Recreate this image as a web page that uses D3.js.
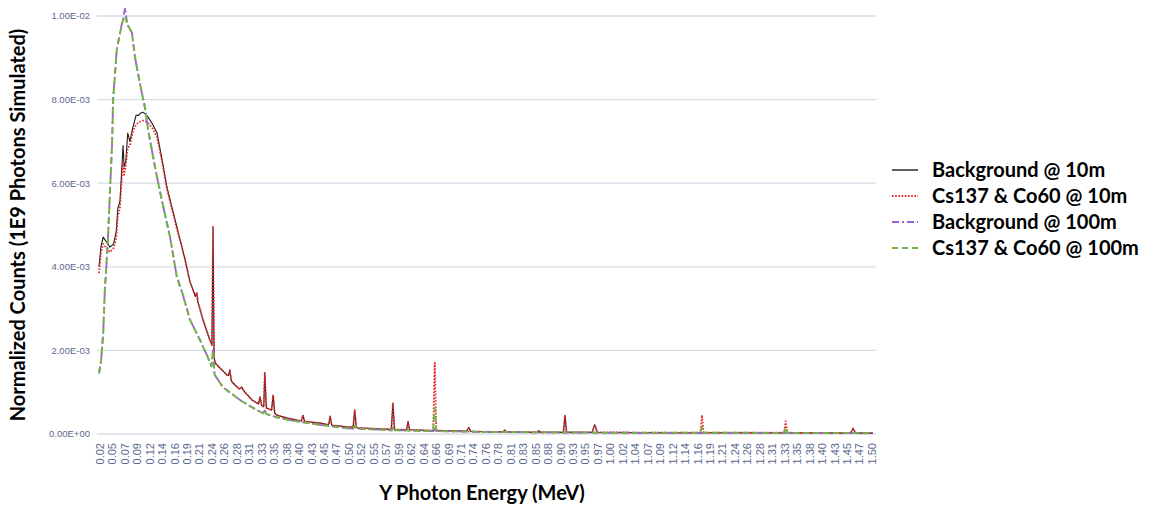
<!DOCTYPE html>
<html>
<head>
<meta charset="utf-8">
<script src="https://cdn.jsdelivr.net/npm/d3@7"></script>
<style>
  body { margin: 0; background: #fff; }
  svg { display: block; }
  .tick-label { font-family: "Liberation Sans", "Noto Sans", sans-serif; fill: #5b6890; }
  .title { font-family: Lato, "Open Sans", sans-serif; font-weight: bold; fill: #000; }
</style>
</head>
<body>
<svg id="chart" width="1149" height="505"></svg>
<script>
// values are in units of 1E-3 normalized counts, energies in MeV
const UNIT = 1e-3;

const energyLabels = ['0.02','0.05','0.07','0.09','0.12','0.14','0.16','0.19','0.21','0.24','0.26','0.28','0.31','0.33','0.35','0.38','0.40','0.43','0.45','0.47','0.50','0.52','0.55','0.57','0.59','0.62','0.64','0.66','0.69','0.71','0.74','0.76','0.78','0.81','0.83','0.85','0.88','0.90','0.93','0.95','0.97','1.00','1.02','1.04','1.07','1.09','1.12','1.14','1.16','1.19','1.21','1.24','1.26','1.28','1.31','1.33','1.35','1.38','1.40','1.43','1.45','1.47','1.50'];

const countTicks = [0, 2, 4, 6, 8, 10];

// shared tail of the 10m spectra (above 0.17 MeV)
const tail10 = [[0.177,4.55],[0.184,4.20],[0.194,3.64],[0.204,3.30],[0.207,3.37],[0.209,3.16],[0.219,2.73],[0.232,2.25],[0.236,2.13],[0.238,4.95],[0.240,1.85],[0.242,1.70],[0.251,1.58],[0.265,1.41],[0.268,1.40],[0.270,1.53],[0.273,1.28],[0.276,1.22],[0.288,1.08],[0.293,1.12],[0.296,1.05],[0.299,1.00],[0.313,0.81],[0.325,0.72],[0.328,0.89],[0.331,0.68],[0.335,0.65],[0.337,1.46],[0.340,0.62],[0.350,0.57],[0.353,0.93],[0.356,0.50],[0.360,0.45],[0.380,0.38],[0.407,0.31],[0.410,0.45],[0.413,0.30],[0.443,0.26],[0.459,0.22],[0.462,0.42],[0.465,0.21],[0.494,0.17],[0.506,0.16],[0.509,0.57],[0.512,0.15],[0.560,0.12],[0.579,0.11],[0.582,0.74],[0.585,0.11],[0.608,0.10],[0.611,0.29],[0.614,0.10]];

const bg10 = [[0.020,4.00],[0.024,4.50],[0.028,4.71],[0.034,4.60],[0.041,4.47],[0.048,4.55],[0.053,4.85],[0.056,5.40],[0.060,5.55],[0.062,6.00],[0.066,6.90],[0.068,6.40],[0.071,6.50],[0.075,7.20],[0.079,7.00],[0.085,7.35],[0.091,7.63],[0.095,7.62],[0.100,7.68],[0.104,7.70],[0.108,7.66],[0.114,7.58],[0.123,7.40],[0.131,7.20],[0.140,6.60],[0.150,5.90],[0.160,5.40],[0.169,4.95]]
  .concat(tail10)
  .concat([[0.659,0.08],[0.662,0.12],[0.665,0.08],[0.723,0.07],[0.727,0.15],[0.731,0.06],[0.781,0.05],[0.793,0.05],[0.796,0.09],[0.799,0.05],[0.858,0.04],[0.861,0.08],[0.864,0.04],[0.908,0.04],[0.911,0.45],[0.914,0.04],[0.963,0.04],[0.968,0.22],[0.973,0.04],[1.100,0.03],[1.300,0.03],[1.457,0.02],[1.462,0.13],[1.467,0.02],[1.500,0.02]]);

const cs10 = [[0.020,3.85],[0.024,4.35],[0.028,4.55],[0.034,4.45],[0.041,4.35],[0.048,4.45],[0.053,4.70],[0.056,5.20],[0.060,5.40],[0.062,5.80],[0.066,6.50],[0.068,6.20],[0.071,6.40],[0.075,6.85],[0.079,6.90],[0.085,7.25],[0.091,7.40],[0.095,7.45],[0.100,7.48],[0.104,7.50],[0.108,7.48],[0.114,7.45],[0.123,7.30],[0.131,7.10],[0.140,6.55],[0.150,5.85],[0.160,5.35],[0.169,4.90]]
  .concat(tail10)
  .concat([[0.659,0.08],[0.662,1.70],[0.665,0.08],[0.723,0.07],[0.727,0.15],[0.731,0.06],[0.781,0.05],[0.793,0.05],[0.796,0.09],[0.799,0.05],[0.858,0.04],[0.861,0.08],[0.864,0.04],[0.908,0.04],[0.911,0.45],[0.914,0.04],[0.963,0.04],[0.968,0.22],[0.973,0.04],[1.100,0.03],[1.170,0.03],[1.173,0.45],[1.176,0.03],[1.330,0.03],[1.333,0.31],[1.336,0.03],[1.457,0.02],[1.462,0.13],[1.467,0.02],[1.500,0.02]]);

const head100 = [[0.020,1.45],[0.024,1.75],[0.028,2.40],[0.031,3.40],[0.033,3.80],[0.037,4.64],[0.041,5.80],[0.045,6.95],[0.047,8.00],[0.054,9.20],[0.064,9.83]];
const mid100 = [[0.074,9.80],[0.083,9.60],[0.089,9.00],[0.098,8.40],[0.108,7.80],[0.114,7.27],[0.127,6.39],[0.140,5.60],[0.156,4.70],[0.169,3.75],[0.180,3.35],[0.194,2.73],[0.213,2.25],[0.228,1.84],[0.235,1.62],[0.238,2.00],[0.241,1.42],[0.257,1.12],[0.275,0.95],[0.290,0.81],[0.322,0.57],[0.334,0.50],[0.337,0.56],[0.340,0.48],[0.360,0.40],[0.385,0.33],[0.443,0.22],[0.494,0.14],[0.506,0.13],[0.509,0.20],[0.512,0.13],[0.580,0.09],[0.583,0.18],[0.586,0.09],[0.659,0.07]];

const bg100 = head100.concat([[0.070,10.20]], mid100,
  [[0.662,0.10],[0.665,0.07],[0.750,0.05],[1.000,0.03],[1.250,0.025],[1.500,0.02]]);

const cs100 = head100.concat([[0.070,10.00]], mid100,
  [[0.662,0.62],[0.665,0.07],[0.750,0.05],[1.000,0.03],[1.170,0.03],[1.173,0.17],[1.176,0.03],[1.330,0.025],[1.333,0.17],[1.336,0.025],[1.500,0.02]]);

const seriesNames = ['Background @ 10m', 'Cs137 & Co60 @ 10m', 'Background @ 100m', 'Cs137 & Co60 @ 100m'];
const seriesData = [bg10, cs10, bg100, cs100];
const seriesStyles = [
  { color: '#1a1a1a', width: 1.1, dash: null },
  { color: '#e8262a', width: 1.8, dash: '1.6,1.6' },
  { color: '#9b5fd4', width: 1.8, dash: '7,3,2,3' },
  { color: '#74b244', width: 2, dash: '6,4' }
];

const svg = d3.select('#chart');
const plot = { left: 99, right: 873, top: 16, bottom: 434 };

const x = d3.scaleLinear().domain([0.02, 1.50]).range([plot.left, plot.right]);
const y = d3.scaleLinear().domain([0, 10]).range([plot.bottom, plot.top]);
const xLabels = d3.scalePoint().domain(energyLabels).range([100, 872]);

function sciLabel(v) {
  const val = v * UNIT;
  if (val === 0) return '0.00E+00';
  const [m, e] = val.toExponential(2).split('e');
  const n = +e;
  return m + 'E' + (n < 0 ? '-' : '+') + String(Math.abs(n)).padStart(2, '0');
}

// gridlines
svg.append('g')
  .selectAll('line')
  .data(countTicks)
  .join('line')
  .attr('x1', 97).attr('x2', 876)
  .attr('y1', d => y(d)).attr('y2', d => y(d))
  .attr('stroke', '#d9dde7')
  .attr('stroke-width', 1.3);

svg.append('g')
  .selectAll('text')
  .data(countTicks)
  .join('text')
  .attr('class', 'tick-label')
  .attr('x', 90)
  .attr('y', d => y(d))
  .attr('dy', '0.35em')
  .attr('text-anchor', 'end')
  .attr('font-size', 9.5)
  .text(d => sciLabel(d));

svg.append('g')
  .selectAll('text')
  .data(energyLabels)
  .join('text')
  .attr('class', 'tick-label')
  .attr('transform', d => `translate(${xLabels(d)},443) rotate(-90)`)
  .attr('dy', '0.35em')
  .attr('text-anchor', 'end')
  .attr('font-size', 11)
  .text(d => d);

// series
const line = d3.line()
  .x(d => x(d[0]))
  .y(d => y(d[1]));

seriesData.forEach((data, i) => {
  const s = seriesStyles[i];
  svg.append('path')
    .datum(data)
    .attr('fill', 'none')
    .attr('stroke', s.color)
    .attr('stroke-width', s.width)
    .attr('stroke-dasharray', s.dash)
    .attr('stroke-linejoin', 'round')
    .attr('d', line);
});

// axis titles
svg.append('text')
  .attr('class', 'title')
  .attr('transform', 'translate(25,225) rotate(-90)')
  .attr('text-anchor', 'middle')
  .attr('font-size', 20)
  .text('Normalized Counts (1E9 Photons Simulated)');

svg.append('text')
  .attr('class', 'title')
  .attr('x', 482)
  .attr('y', 500)
  .attr('text-anchor', 'middle')
  .attr('font-size', 20)
  .text('Y Photon Energy (MeV)');

// legend
const legendRows = [170, 196, 222, 248];
const legend = svg.append('g')
  .selectAll('g')
  .data(seriesNames)
  .join('g')
  .attr('transform', (d, i) => `translate(0,${legendRows[i]})`);

legend.append('line')
  .attr('x1', 892).attr('x2', 918)
  .attr('y1', 0).attr('y2', 0)
  .attr('stroke', (d, i) => seriesStyles[i].color)
  .attr('stroke-width', (d, i) => Math.max(1.4, seriesStyles[i].width))
  .attr('stroke-dasharray', (d, i) => seriesStyles[i].dash);

legend.append('text')
  .attr('class', 'title')
  .attr('x', 932)
  .attr('dy', '0.35em')
  .attr('font-size', 20)
  .text(d => d);
</script>
</body>
</html>
